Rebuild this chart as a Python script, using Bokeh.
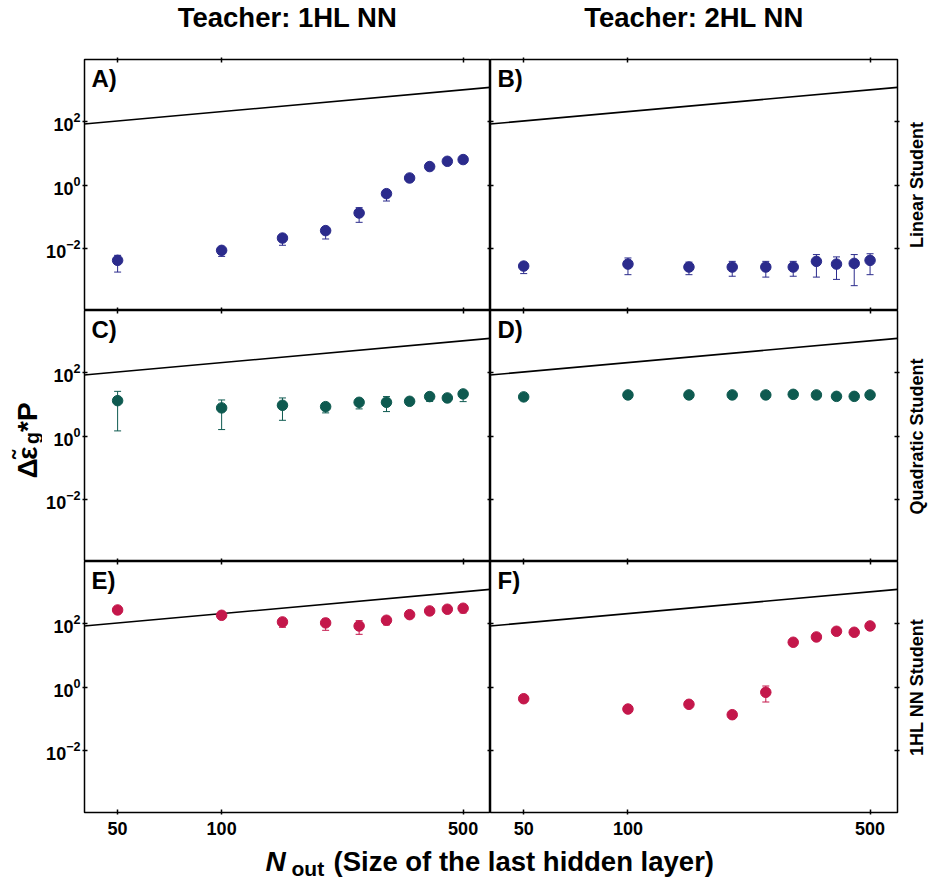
import math
from bokeh.plotting import figure
from bokeh.models import (Range1d, LogAxis, FixedTicker, BasicTickFormatter,
                          ColumnDataSource, Whisker, TeeHead, Label)
from bokeh.layouts import row, column
from bokeh.embed import file_html
from bokeh.resources import INLINE

# ---------------- data ----------------
n_out = [50, 100, 150, 200, 250, 300, 350, 400, 450, 500]

# A) Teacher 1HL NN, linear student
a_y  = [0.0042, 0.0087, 0.0213, 0.0366, 0.132, 0.54, 1.69, 3.88, 5.7, 6.46]
a_lo = [0.00179, 0.0056, 0.0126, 0.0199, 0.067, 0.316, 1.45, 3.4, 5.1, 5.9]
a_hi = [0.00605, 0.0105, 0.026, 0.044, 0.195, 0.66, 1.95, 4.3, 6.3, 7.0]
# B) Teacher 2HL NN, linear student
b_y  = [0.00277, 0.0032, 0.00258, 0.00258, 0.00258, 0.00258, 0.0039, 0.0032, 0.00337, 0.0042]
b_lo = [0.0016, 0.00148, 0.00148, 0.00132, 0.00124, 0.00132, 0.00124, 0.00105, 0.000665, 0.00148]
b_hi = [0.0034, 0.005, 0.0037, 0.0039, 0.0039, 0.0039, 0.0064, 0.0054, 0.0064, 0.0068]
# C) Teacher 1HL NN, quadratic student
c_y  = [13.3, 7.85, 9.5, 8.6, 11.8, 11.8, 12.7, 17.9, 16.2, 21.7]
c_lo = [1.47, 1.62, 3.18, 5.46, 7.3, 6.0, 11.2, 12.6, 13.8, 12.4]
c_hi = [26.2, 14.0, 16.2, 10.5, 14.5, 17.9, 14.3, 21.5, 18.6, 27.6]
# D) Teacher 2HL NN, quadratic student
d_y  = [17.5, 20.2, 20.2, 20.2, 20.2, 21.1, 20.2, 18.2, 18.2, 20.2]
d_lo = [16.2, 18.9, 18.9, 18.8, 18.9, 19.7, 18.9, 17.0, 17.0, 18.9]
d_hi = [18.8, 21.5, 21.5, 21.6, 21.5, 22.5, 21.5, 19.4, 19.4, 21.5]
# E) Teacher 1HL NN, 1HL NN student
e_y  = [277, 188, 116, 108, 86.5, 131, 197, 258, 292, 314]
e_lo = [262, 178, 78.5, 63, 47, 93, 170, 240, 270, 223]
e_hi = [292, 198, 150, 145, 127, 170, 225, 275, 315, 345]
# F) Teacher 2HL NN, 1HL NN student
f_y  = [0.432, 0.204, 0.288, 0.135, 0.69, 26.4, 38.8, 58.7, 54.6, 86.5]
f_lo = [0.40, 0.19, 0.24, 0.125, 0.34, 22.5, 35.5, 54.5, 50.5, 81]
f_hi = [0.465, 0.22, 0.34, 0.145, 1.09, 30.5, 42, 63, 59, 92]

# reference line (drawn in every panel)
ref_x = [40, 600]
ref_y = [86, 1240]

col_titles = ["Teacher: 1HL NN", "Teacher: 2HL NN"]
row_titles = ["Linear Student", "Quadratic Student", "1HL NN Student"]
panel_letters = ["A)", "B)", "C)", "D)", "E)", "F)"]
x_ticks = [50, 100, 500]
y_ticks = [1e-2, 1, 1e2]
row_colors = ["#2b2b8c", "#0e5a50", "#c4174b"]

FONT = "Liberation Sans"
FH = 251
FW_COL = [406, 407]
LEFT_W = 42


def hide_grid(p):
    for g in p.grid:
        g.visible = False


def add_axis(p, side, ticks, labels, outer, fmt=None):
    ax = LogAxis(ticker=FixedTicker(ticks=ticks, minor_ticks=[]),
                 axis_line_color=None,
                 major_tick_in=3, major_tick_out=2 if outer else 0,
                 minor_tick_in=0, minor_tick_out=0,
                 major_tick_line_color="black", major_tick_line_width=1.5)
    if fmt is not None:
        ax.formatter = fmt
    if labels:
        ax.major_label_text_font = FONT
        ax.major_label_text_font_size = "18px"
        ax.major_label_text_font_style = "bold"
        ax.major_label_text_color = "black"
        ax.major_label_standoff = 7 if side == "below" else 2
    else:
        ax.major_label_overrides = {t: "" for t in ticks}
        ax.major_label_text_font_size = "1px"
        ax.major_label_text_color = None
        ax.major_label_standoff = 0
    p.add_layout(ax, side)


def panel(ys, lo, hi, color, letter, r, c):
    left_lab = (c == 0)
    bottom_lab = (r == 2)
    top_outer = (r == 0)
    right_outer = (c == 1)
    mbl = 42 if left_lab else 0
    mbr = 3 if right_outer else 0
    mbt = 3 if top_outer else 0
    mbb = 32 if bottom_lab else 0
    p = figure(width=mbl + FW_COL[c] + mbr, height=mbt + FH + mbb,
               x_axis_type="log", y_axis_type="log",
               x_range=Range1d(40.1, 600), y_range=Range1d(1.09e-4, 9.44e3),
               x_axis_location=None, y_axis_location=None,
               toolbar_location=None, tools="", output_backend="svg",
               min_border_left=mbl, min_border_right=mbr,
               min_border_top=mbt, min_border_bottom=mbb,
               outline_line_color="black", outline_line_width=1.5,
               background_fill_color="white", border_fill_color="white")
    hide_grid(p)
    add_axis(p, "below", x_ticks, bottom_lab, bottom_lab, BasicTickFormatter())
    add_axis(p, "above", x_ticks, False, top_outer, BasicTickFormatter())
    add_axis(p, "left", y_ticks, left_lab, left_lab)
    add_axis(p, "right", y_ticks, False, right_outer)

    p.line(ref_x, ref_y, line_color="black", line_width=1.6)
    src = ColumnDataSource(dict(x=n_out, y=ys, lo=lo, hi=hi))
    p.add_layout(Whisker(source=src, base="x", lower="lo", upper="hi",
                         dimension="height", line_color=color, line_width=1,
                         upper_head=TeeHead(size=7, line_color=color, line_width=1),
                         lower_head=TeeHead(size=7, line_color=color, line_width=1)))
    p.scatter("x", "y", source=src, size=10.5, fill_color=color, line_color=color)
    p.add_layout(Label(x=7, y=FH - 19, x_units="screen", y_units="screen",
                       text=letter, text_font=FONT, text_font_size="24px",
                       text_font_style="bold", text_color="black",
                       text_baseline="alphabetic", text_align="left"))
    return p


def strip(w, h):
    s = figure(width=w, height=h, x_range=Range1d(0, w), y_range=Range1d(0, h),
               x_axis_location=None, y_axis_location=None,
               toolbar_location=None, tools="", output_backend="svg",
               min_border=0, outline_line_color=None,
               background_fill_color="white", border_fill_color="white")
    hide_grid(s)
    return s


def lab(s, x, y, text, size, style="bold", align="left", angle=0.0):
    s.add_layout(Label(x=x, y=y, text=text, text_font=FONT, text_font_size=size,
                       text_font_style=style, text_color="black", angle=angle,
                       text_align=align, text_baseline="alphabetic"))


data = [(a_y, a_lo, a_hi), (b_y, b_lo, b_hi),
        (c_y, c_lo, c_hi), (d_y, d_lo, d_hi),
        (e_y, e_lo, e_hi), (f_y, f_lo, f_hi)]

panels = []
for i, (ys, lo, hi) in enumerate(data):
    r, c = divmod(i, 2)
    panels.append(panel(ys, lo, hi, row_colors[r], panel_letters[i], r, c))

# --- strips with the outer texts (the page has no margin) ---
W = 928
GRID_H = 254 + 251 + 283
top = strip(W, 56)
lab(top, 287, 39, col_titles[0], "27.5px", align="center")
lab(top, 693.5, 39, col_titles[1], "27.5px", align="center")

left = strip(LEFT_W, GRID_H)
rot = math.pi / 2
lab(left, 27.2, 366, "Δ", "28px", angle=rot)
lab(left, 27.2, 384.8, "ε\u0303", "28px", angle=rot)
lab(left, 31.5, 400.5, "g", "19.6px", angle=rot)
lab(left, 27.2, 412.5, "*P", "28px", angle=rot)

right = strip(28, GRID_H)
for k, t in enumerate(row_titles):
    lab(right, 16, [659.5, 408, 157][k], t, "18px", align="center", angle=rot)

bottom = strip(W, 35)
lab(bottom, 265, 18.3, "N", "28px", style="bold italic")
lab(bottom, 291, 11, "out", "21px")
lab(bottom, 333, 18.1, "(Size of the last hidden layer)", "27.5px")

grid = column(row(panels[0], panels[1]), row(panels[2], panels[3]), row(panels[4], panels[5]))
layout = column(top, row(left, grid, right), bottom)

with open("out.html", "w", encoding="utf-8") as fh:
    fh.write(file_html(layout, INLINE))
